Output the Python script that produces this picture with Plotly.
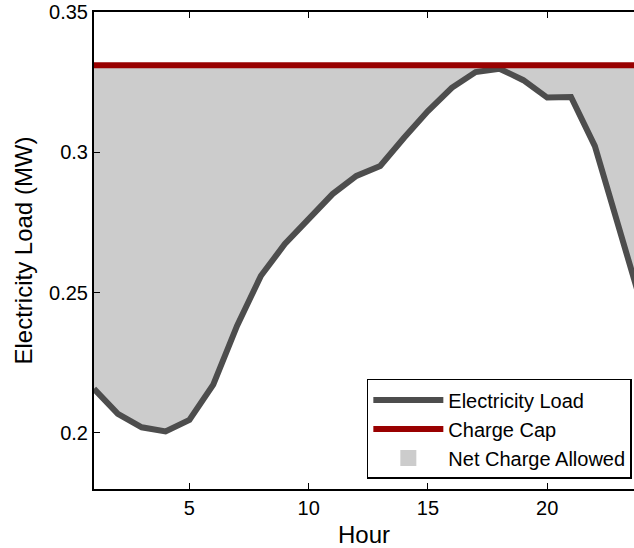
import plotly.graph_objects as go

hours = list(range(1, 25))
load_mw = [0.2157, 0.2068, 0.2020, 0.2005, 0.2046, 0.2172, 0.2382, 0.2560, 0.2673,
           0.2762, 0.2851, 0.2916, 0.2951, 0.3052, 0.3147, 0.3230, 0.3286, 0.3298,
           0.3257, 0.3195, 0.3197, 0.3022, 0.2728, 0.2445]
charge_cap = 0.331
cap_mw = [charge_cap] * len(hours)

x_ticks = [5, 10, 15, 20]
y_ticks = [0.2, 0.25, 0.3, 0.35]
y_ticktext = ["0.2", "0.25", "0.3", "0.35"]

LOAD_COLOR = "#4d4d4d"
CAP_COLOR = "#990000"
FILL_COLOR = "#cccccc"
FONT = "Liberation Sans, Arial, Helvetica, sans-serif"

fig = go.Figure()
# fill region between load and cap
fig.add_trace(go.Scatter(x=hours, y=load_mw, mode="lines", line=dict(width=0),
                         showlegend=False, hoverinfo="skip"))
fig.add_trace(go.Scatter(x=hours, y=cap_mw, mode="lines", line=dict(width=0),
                         fill="tonexty", fillcolor=FILL_COLOR,
                         name="Net Charge Allowed", showlegend=False))
# lines
fig.add_trace(go.Scatter(x=hours, y=load_mw, mode="lines",
                         line=dict(color=LOAD_COLOR, width=6),
                         name="Electricity Load", legendrank=1))
fig.add_trace(go.Scatter(x=hours, y=cap_mw, mode="lines",
                         line=dict(color=CAP_COLOR, width=6),
                         name="Charge Cap", legendrank=2))
# legend swatch for fill
fig.add_trace(go.Scatter(x=[None], y=[None], mode="markers",
                         marker=dict(symbol="square", size=20, color=FILL_COLOR),
                         name="Net Charge Allowed", legendrank=3))

fig.update_layout(
    width=634, height=548,
    margin=dict(l=94, r=0, t=12, b=59),
    paper_bgcolor="white", plot_bgcolor="white",
    font=dict(family=FONT, size=20, color="black"),
    showlegend=True,
    legend=dict(x=0.996, y=0.021, xanchor="right", yanchor="bottom",
                bgcolor="white", bordercolor="black", borderwidth=1.5,
                font=dict(size=20), tracegroupgap=0, itemwidth=70,
                traceorder="normal"),
    xaxis=dict(range=[1, 23.64], tickvals=x_ticks, ticks="inside", ticklen=6,
               tickcolor="black", tickwidth=1, showline=True, linecolor="black",
               linewidth=2, mirror="ticks", showgrid=False, zeroline=False,
               title=dict(text="Hour", standoff=8),
               tickfont=dict(size=20)),
    yaxis=dict(range=[0.18, 0.35], tickvals=y_ticks, ticktext=y_ticktext,
               ticks="inside", ticklen=6, tickcolor="black", tickwidth=1,
               showline=True, linecolor="black", linewidth=2, mirror=False,
               showgrid=False, zeroline=False,
               title=dict(text="Electricity Load (MW)", standoff=10),
               tickfont=dict(size=20)),
)

fig.write_html("out.html")
